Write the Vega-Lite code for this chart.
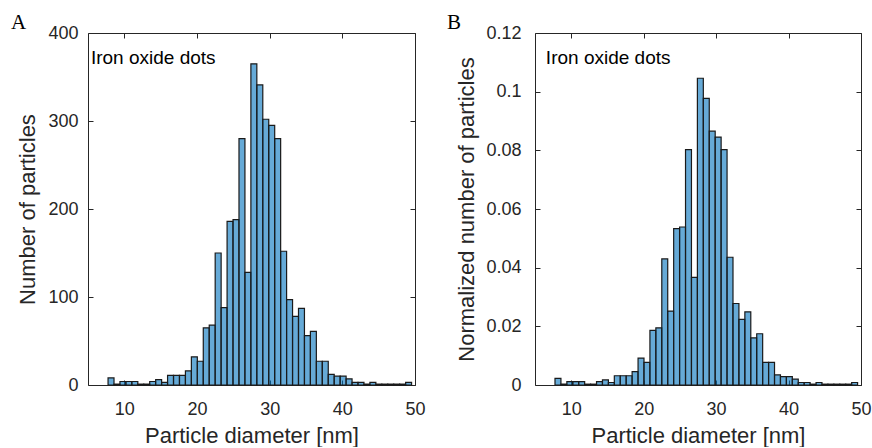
{
  "$schema": "https://vega.github.io/schema/vega-lite/v6.json",
  "background": "white",
  "padding": {"left": 10, "top": 11, "right": 5, "bottom": 0},
  "config": {
    "view": {"stroke": "#262626", "strokeWidth": 1},
    "axis": {
      "grid": false,
      "domain": false,
      "offset": -5,
      "tickColor": "#262626",
      "tickSize": 5,
      "tickWidth": 1,
      "labelFlush": false,
      "labelFont": "Liberation Sans",
      "labelFontSize": 18,
      "labelColor": "#262626",
      "titleFont": "Liberation Sans",
      "titleFontSize": 22,
      "titleFontWeight": "normal",
      "titleColor": "#262626"
    },
    "title": {"font": "Liberation Serif", "fontSize": 21, "fontWeight": "normal", "color": "#000000"}
  },
  "datasets": {
    "bins": [
      {"d0": 7.760, "d1": 8.579, "n": 8, "p": 0.00229},
      {"d0": 8.579, "d1": 9.398, "n": 1, "p": 0.00029},
      {"d0": 9.398, "d1": 10.217, "n": 4, "p": 0.00115},
      {"d0": 10.217, "d1": 11.036, "n": 4, "p": 0.00115},
      {"d0": 11.036, "d1": 11.855, "n": 4, "p": 0.00115},
      {"d0": 11.855, "d1": 12.674, "n": 1, "p": 0.00029},
      {"d0": 12.674, "d1": 13.493, "n": 1, "p": 0.00029},
      {"d0": 13.493, "d1": 14.312, "n": 4, "p": 0.00115},
      {"d0": 14.312, "d1": 15.131, "n": 6, "p": 0.00172},
      {"d0": 15.131, "d1": 15.950, "n": 3, "p": 0.00086},
      {"d0": 15.950, "d1": 16.769, "n": 11, "p": 0.00315},
      {"d0": 16.769, "d1": 17.588, "n": 11, "p": 0.00315},
      {"d0": 17.588, "d1": 18.407, "n": 11, "p": 0.00315},
      {"d0": 18.407, "d1": 19.226, "n": 16, "p": 0.00458},
      {"d0": 19.226, "d1": 20.045, "n": 32, "p": 0.00917},
      {"d0": 20.045, "d1": 20.864, "n": 27, "p": 0.00774},
      {"d0": 20.864, "d1": 21.683, "n": 65, "p": 0.01862},
      {"d0": 21.683, "d1": 22.502, "n": 68, "p": 0.01948},
      {"d0": 22.502, "d1": 23.321, "n": 150, "p": 0.04298},
      {"d0": 23.321, "d1": 24.140, "n": 88, "p": 0.02521},
      {"d0": 24.140, "d1": 24.959, "n": 186, "p": 0.05330},
      {"d0": 24.959, "d1": 25.778, "n": 188, "p": 0.05387},
      {"d0": 25.778, "d1": 26.597, "n": 280, "p": 0.08023},
      {"d0": 26.597, "d1": 27.416, "n": 128, "p": 0.03668},
      {"d0": 27.416, "d1": 28.235, "n": 365, "p": 0.10458},
      {"d0": 28.235, "d1": 29.054, "n": 341, "p": 0.09771},
      {"d0": 29.054, "d1": 29.873, "n": 302, "p": 0.08653},
      {"d0": 29.873, "d1": 30.692, "n": 295, "p": 0.08453},
      {"d0": 30.692, "d1": 31.511, "n": 280, "p": 0.08023},
      {"d0": 31.511, "d1": 32.330, "n": 152, "p": 0.04355},
      {"d0": 32.330, "d1": 33.149, "n": 97, "p": 0.02779},
      {"d0": 33.149, "d1": 33.968, "n": 78, "p": 0.02235},
      {"d0": 33.968, "d1": 34.787, "n": 87, "p": 0.02493},
      {"d0": 34.787, "d1": 35.606, "n": 56, "p": 0.01605},
      {"d0": 35.606, "d1": 36.425, "n": 61, "p": 0.01748},
      {"d0": 36.425, "d1": 37.244, "n": 27, "p": 0.00774},
      {"d0": 37.244, "d1": 38.063, "n": 27, "p": 0.00774},
      {"d0": 38.063, "d1": 38.882, "n": 12, "p": 0.00344},
      {"d0": 38.882, "d1": 39.701, "n": 10, "p": 0.00287},
      {"d0": 39.701, "d1": 40.520, "n": 10, "p": 0.00287},
      {"d0": 40.520, "d1": 41.339, "n": 7, "p": 0.00201},
      {"d0": 41.339, "d1": 42.158, "n": 3, "p": 0.00086},
      {"d0": 42.158, "d1": 42.977, "n": 3, "p": 0.00086},
      {"d0": 42.977, "d1": 43.796, "n": 1, "p": 0.00029},
      {"d0": 43.796, "d1": 44.615, "n": 3, "p": 0.00086},
      {"d0": 44.615, "d1": 45.434, "n": 1, "p": 0.00029},
      {"d0": 45.434, "d1": 46.253, "n": 1, "p": 0.00029},
      {"d0": 46.253, "d1": 47.072, "n": 1, "p": 0.00029},
      {"d0": 47.072, "d1": 47.891, "n": 1, "p": 0.00029},
      {"d0": 47.891, "d1": 48.710, "n": 1, "p": 0.00029},
      {"d0": 48.710, "d1": 49.529, "n": 3, "p": 0.00086}
    ],
    "labels": [{"label": "Iron oxide dots"}]
  },
  "spacing": 120,
  "bounds": "flush",
  "hconcat": [
    {
      "width": 327,
      "height": 352,
      "title": {"text": "A", "anchor": "start", "frame": "group", "dx": -77, "offset": 0, "baseline": "alphabetic", "dy": 26},
      "layer": [
        {
          "data": {"name": "bins"},
          "mark": {"type": "bar", "fill": "#0072BD", "fillOpacity": 0.6, "stroke": "#1a1a1a", "strokeWidth": 1.2},
          "encoding": {
            "x": {"field": "d0", "type": "quantitative", "scale": {"domain": [5, 50], "nice": false, "zero": false},
              "axis": {"orient": "bottom", "values": [10, 20, 30, 40, 50], "format": "d", "title": "Particle diameter [nm]", "labelPadding": 15, "titlePadding": 7}},
            "x2": {"field": "d1"},
            "y": {"field": "n", "type": "quantitative", "scale": {"domain": [0, 400], "nice": false},
              "axis": {"orient": "left", "values": [0, 100, 200, 300, 400], "title": "Number of particles", "labelPadding": 10, "titlePadding": 8}},
            "y2": {"datum": 0}
          }
        },
        {
          "data": {"name": "bins"},
          "mark": {"type": "bar", "opacity": 0},
          "encoding": {
            "x": {"field": "d0", "type": "quantitative", "scale": {"domain": [5, 50], "nice": false, "zero": false},
              "axis": {"orient": "top", "values": [10, 20, 30, 40, 50], "labels": false, "title": null}},
            "x2": {"field": "d1"},
            "y": {"field": "n", "type": "quantitative", "scale": {"domain": [0, 400], "nice": false},
              "axis": {"orient": "right", "values": [0, 100, 200, 300, 400], "labels": false, "title": null}},
            "y2": {"datum": 0}
          }
        },
        {
          "data": {"name": "labels"},
          "mark": {"type": "text", "align": "left", "baseline": "alphabetic", "font": "Liberation Sans", "fontSize": 19, "color": "#000000"},
          "encoding": {
            "x": {"datum": 5.4, "type": "quantitative", "axis": null},
            "y": {"datum": 365, "type": "quantitative", "axis": null},
            "text": {"field": "label"}
          }
        }
      ]
    },
    {
      "width": 326,
      "height": 352,
      "title": {"text": "B", "anchor": "start", "frame": "group", "dx": -88, "offset": 0, "baseline": "alphabetic", "dy": 26},
      "layer": [
        {
          "data": {"name": "bins"},
          "mark": {"type": "bar", "fill": "#0072BD", "fillOpacity": 0.6, "stroke": "#1a1a1a", "strokeWidth": 1.2},
          "encoding": {
            "x": {"field": "d0", "type": "quantitative", "scale": {"domain": [5, 50], "nice": false, "zero": false},
              "axis": {"orient": "bottom", "values": [10, 20, 30, 40, 50], "format": "d", "title": "Particle diameter [nm]", "labelPadding": 15, "titlePadding": 7}},
            "x2": {"field": "d1"},
            "y": {"field": "p", "type": "quantitative", "scale": {"domain": [0, 0.12], "nice": false},
              "axis": {"orient": "left", "values": [0, 0.02, 0.04, 0.06, 0.08, 0.1, 0.12], "format": ".2~f", "title": "Normalized number of particles", "labelPadding": 14, "titlePadding": 7}},
            "y2": {"datum": 0}
          }
        },
        {
          "data": {"name": "bins"},
          "mark": {"type": "bar", "opacity": 0},
          "encoding": {
            "x": {"field": "d0", "type": "quantitative", "scale": {"domain": [5, 50], "nice": false, "zero": false},
              "axis": {"orient": "top", "values": [10, 20, 30, 40, 50], "labels": false, "title": null}},
            "x2": {"field": "d1"},
            "y": {"field": "p", "type": "quantitative", "scale": {"domain": [0, 0.12], "nice": false},
              "axis": {"orient": "right", "values": [0, 0.02, 0.04, 0.06, 0.08, 0.1, 0.12], "labels": false, "title": null}},
            "y2": {"datum": 0}
          }
        },
        {
          "data": {"name": "labels"},
          "mark": {"type": "text", "align": "left", "baseline": "alphabetic", "font": "Liberation Sans", "fontSize": 19, "color": "#000000"},
          "encoding": {
            "x": {"datum": 6.5, "type": "quantitative", "axis": null},
            "y": {"datum": 0.1094, "type": "quantitative", "axis": null},
            "text": {"field": "label"}
          }
        }
      ]
    }
  ]
}
